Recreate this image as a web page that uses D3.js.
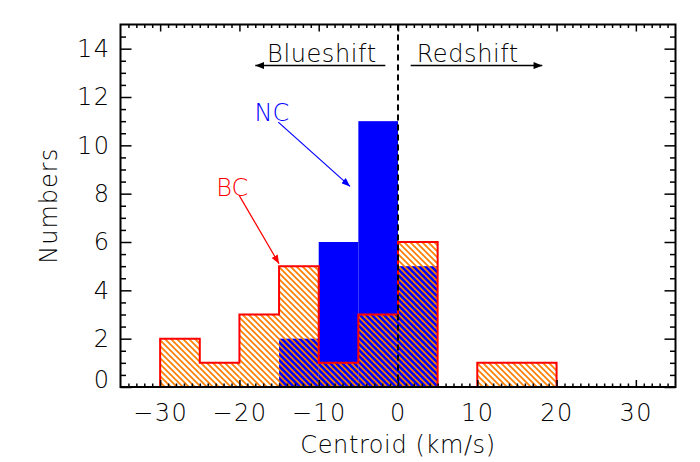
<!DOCTYPE html>
<html>
<head>
<meta charset="utf-8">
<script src="https://cdn.jsdelivr.net/npm/d3@7"></script>
<style>
  body { margin: 0; background: #fff; }
  svg { display: block; }
  text { font-family: "DejaVu Sans", sans-serif; font-weight: 200; }
</style>
</head>
<body>
<svg id="chart" width="700" height="462"></svg>
<script>
// Centroid velocity histograms, 5 km/s bins (left edges in km/s)
const binWidth = 5;
const bcBinStarts = [-35, -30, -25, -20, -15, -10, -5, 0, 5, 10, 15, 20, 25, 30];
const bcCounts    = [  0,   2,   1,   3,   5,   1,  3, 6, 0,  1,  1,  0,  0,  0];
const ncBinStarts = [-15, -10, -5, 0];
const ncCounts    = [  2,   6, 11, 5];

const xTickValues = [-30, -20, -10, 0, 10, 20, 30];
const yTickValues = [0, 2, 4, 6, 8, 10, 12, 14];

const plotLeft = 120.5, plotRight = 675.5, plotTop = 24.5, plotBottom = 387;

const svg = d3.select("#chart");
const x = d3.scaleLinear().domain([-35, 35]).range([plotLeft, plotRight]);
const y = d3.scaleLinear().domain([0, 15]).range([plotBottom, plotTop]);

const BLUE = "#0000ff", RED = "#ff0000", ORANGE = "#ff8000";

const defs = svg.append("defs");
// diagonal hatch for the BC histogram
const pat = defs.append("pattern")
  .attr("id", "hatch").attr("patternUnits", "userSpaceOnUse")
  .attr("width", 6).attr("height", 6);
pat.append("path")
  .attr("d", "M-1,-1 L7,7 M-1,5 L1,7 M5,-1 L7,1")
  .attr("stroke", ORANGE).attr("stroke-width", 1.7).attr("fill", "none");

function marker(id, color) {
  defs.append("marker")
    .attr("id", id).attr("viewBox", "0 0 10 8")
    .attr("refX", 10).attr("refY", 4)
    .attr("markerWidth", 9).attr("markerHeight", 7)
    .attr("markerUnits", "userSpaceOnUse").attr("orient", "auto")
    .append("path").attr("d", "M0,0 L10,4 L0,8 Z").attr("fill", color);
}
marker("arrK", "#000");
marker("arrB", BLUE);
marker("arrR", RED);

const plot = svg.append("g");

// NC: solid blue bars
plot.selectAll("rect.nc")
  .data(ncBinStarts.map((s, i) => ({ s, c: ncCounts[i] })))
  .join("rect").attr("class", "nc")
  .attr("x", d => x(d.s)).attr("width", d => x(d.s + binWidth) - x(d.s))
  .attr("y", d => y(d.c)).attr("height", d => y(0) - y(d.c))
  .attr("fill", BLUE);

// BC: hatched bars on top
plot.selectAll("rect.bc")
  .data(bcBinStarts.map((s, i) => ({ s, c: bcCounts[i] })).filter(d => d.c > 0))
  .join("rect").attr("class", "bc")
  .attr("x", d => x(d.s)).attr("width", d => x(d.s + binWidth) - x(d.s))
  .attr("y", d => y(d.c)).attr("height", d => y(0) - y(d.c))
  .attr("fill", "url(#hatch)");

// BC step outline
const stepPts = bcBinStarts.map((s, i) => [s, bcCounts[i]]);
stepPts.push([bcBinStarts[bcBinStarts.length - 1] + binWidth, 0]);
plot.append("path")
  .attr("d", d3.line().x(d => x(d[0])).y(d => y(d[1])).curve(d3.curveStepAfter)(stepPts))
  .attr("fill", "none").attr("stroke", RED).attr("stroke-width", 2);

// zero-velocity divider
plot.append("line")
  .attr("x1", x(0)).attr("x2", x(0)).attr("y1", y(15)).attr("y2", y(0))
  .attr("stroke", "#000").attr("stroke-width", 2).attr("stroke-dasharray", "6,4");

// Axes
function styleAxis(g) {
  g.select(".domain").remove();
  g.selectAll(".tick line").attr("stroke", "#000").attr("stroke-width", 1.5);
  g.selectAll(".tick text").attr("fill", "#000").attr("font-size", 24)
    .attr("letter-spacing", 1.5);
}
const xMinor = d3.range(-34, 35, 1).filter(v => v % 10 !== 0);
const yMinor = d3.range(0.5, 15, 0.5).filter(v => v % 2 !== 0);

const fmt = d => (d < 0 ? "\u2212" + Math.abs(d) : String(d));

svg.append("g").attr("transform", `translate(0,${plotBottom})`)
  .call(d3.axisBottom(x).tickValues(xTickValues).tickSize(-7).tickPadding(17).tickFormat(fmt))
  .call(styleAxis);
svg.append("g").attr("transform", `translate(0,${plotBottom})`)
  .call(d3.axisBottom(x).tickValues(xMinor).tickSize(-3.5).tickFormat(""))
  .call(styleAxis);
svg.append("g").attr("transform", `translate(0,${plotTop})`)
  .call(d3.axisTop(x).tickValues(xTickValues).tickSize(-7).tickFormat(""))
  .call(styleAxis);
svg.append("g").attr("transform", `translate(0,${plotTop})`)
  .call(d3.axisTop(x).tickValues(xMinor).tickSize(-3.5).tickFormat(""))
  .call(styleAxis);

const yAx = svg.append("g").attr("transform", `translate(${plotLeft},0)`)
  .call(d3.axisLeft(y).tickValues(yTickValues).tickSize(-11).tickPadding(10).tickFormat(d3.format("d")))
  .call(styleAxis);
// lift the bottom label clear of the x axis
yAx.selectAll(".tick text").filter(d => d === 0).attr("dy", "0.0em");
svg.append("g").attr("transform", `translate(${plotLeft},0)`)
  .call(d3.axisLeft(y).tickValues(yMinor).tickSize(-5.5).tickFormat(""))
  .call(styleAxis);
svg.append("g").attr("transform", `translate(${plotRight},0)`)
  .call(d3.axisRight(y).tickValues(yTickValues).tickSize(-11).tickFormat(""))
  .call(styleAxis);
svg.append("g").attr("transform", `translate(${plotRight},0)`)
  .call(d3.axisRight(y).tickValues(yMinor).tickSize(-5.5).tickFormat(""))
  .call(styleAxis);

// frame
svg.append("rect")
  .attr("x", plotLeft).attr("y", plotTop)
  .attr("width", plotRight - plotLeft).attr("height", plotBottom - plotTop)
  .attr("fill", "none").attr("stroke", "#000").attr("stroke-width", 2);

// axis titles
svg.append("text")
  .attr("x", x(0)).attr("y", 453).attr("text-anchor", "middle")
  .attr("font-size", 24).attr("letter-spacing", 0.6)
  .text("Centroid (km/s)");
svg.append("text")
  .attr("transform", `translate(57,${(plotTop + plotBottom) / 2}) rotate(-90)`)
  .attr("text-anchor", "middle").attr("font-size", 24).attr("letter-spacing", 1)
  .text("Numbers");

// direction annotations
const ann = svg.append("g");
ann.append("text").attr("x", x(-9.6)).attr("y", y(13.45)).attr("text-anchor", "middle")
  .attr("font-size", 24).attr("letter-spacing", 0.6).text("Blueshift");
ann.append("line").attr("x1", x(-1.6)).attr("x2", x(-18)).attr("y1", y(13.3)).attr("y2", y(13.3))
  .attr("stroke", "#000").attr("stroke-width", 1.5).attr("marker-end", "url(#arrK)");
ann.append("text").attr("x", x(8.8)).attr("y", y(13.45)).attr("text-anchor", "middle")
  .attr("font-size", 24).attr("letter-spacing", 0.6).text("Redshift");
ann.append("line").attr("x1", x(1.6)).attr("x2", x(18.2)).attr("y1", y(13.3)).attr("y2", y(13.3))
  .attr("stroke", "#000").attr("stroke-width", 1.5).attr("marker-end", "url(#arrK)");

// series labels with pointers
ann.append("text").attr("x", x(-15.9)).attr("y", y(11.0)).attr("text-anchor", "middle")
  .attr("font-size", 24).attr("fill", BLUE).text("NC");
ann.append("line").attr("x1", x(-15.1)).attr("y1", y(10.96)).attr("x2", x(-6.05)).attr("y2", y(8.3))
  .attr("stroke", BLUE).attr("stroke-width", 1.2).attr("marker-end", "url(#arrB)");
ann.append("text").attr("x", x(-20.9)).attr("y", y(7.9)).attr("text-anchor", "middle")
  .attr("font-size", 24).attr("fill", RED).text("BC");
ann.append("line").attr("x1", x(-20.05)).attr("y1", y(7.94)).attr("x2", x(-15)).attr("y2", y(5.1))
  .attr("stroke", RED).attr("stroke-width", 1.2).attr("marker-end", "url(#arrR)");
</script>
</body>
</html>
